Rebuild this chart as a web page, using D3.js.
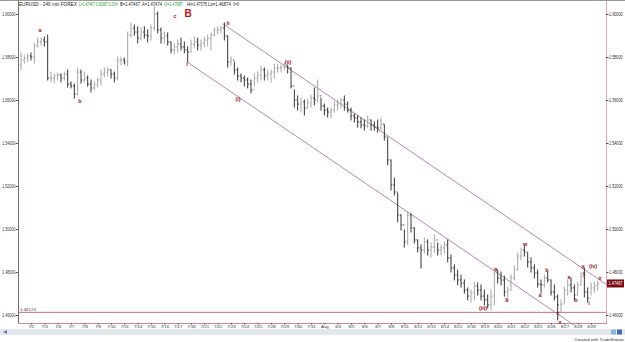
<!DOCTYPE html>
<html lang="en">
<head>
<meta charset="utf-8">
<title>EURUSD - 240 min</title>
<script src="https://d3js.org/d3.v7.min.js"></script>
<style>
  body { margin: 0; background: #fff; }
  svg text { font-family: "Liberation Sans", Arial, sans-serif; }
  .axis .domain { display: none; }
  .axis line { stroke: #555; }
  .axis text { fill: #333; }
</style>
</head>
<body>
<div id="chart"></div>
<script>
const width = 625;
const height = 342;

// session dates on the x axis (one label per trading day)
const days = ["7/2","7/3","7/4","7/7","7/8","7/9","7/10","7/11","7/14","7/15","7/16","7/17","7/18",
  "7/21","7/22","7/23","7/24","7/25","7/28","7/29","7/30","7/31","Aug","8/4","8/5","8/6","8/7","8/8",
  "8/11","8/12","8/13","8/14","8/15","8/18","8/19","8/20","8/21","8/22","8/25","8/26","8/27","8/28","8/29"];
const barsPerDay = 4;
const firstDayBar = 3;

// 240 min bars
const highs = [1.5819,1.5809,1.5814,1.5819,1.5865,1.5888,1.5888,1.5893,1.5902,1.5730,
  1.5721,1.5726,1.5721,1.5730,1.5740,1.5684,1.5674,1.5749,1.5740,1.5730,
  1.5712,1.5693,1.5684,1.5702,1.5740,1.5749,1.5749,1.5740,1.5730,1.5800,
  1.5800,1.5795,1.5916,1.5958,1.5949,1.5940,1.5935,1.5940,1.5926,1.5949,
  1.6037,1.6009,1.5935,1.5916,1.5912,1.5870,1.5860,1.5879,1.5888,1.5870,
  1.5847,1.5879,1.5893,1.5888,1.5879,1.5893,1.5902,1.5912,1.5935,1.5940,
  1.5944,1.5958,1.5898,1.5800,1.5777,1.5749,1.5721,1.5712,1.5702,1.5693,
  1.5721,1.5730,1.5758,1.5749,1.5740,1.5740,1.5767,1.5767,1.5763,1.5772,
  1.5763,1.5749,1.5647,1.5619,1.5609,1.5600,1.5605,1.5623,1.5656,1.5693,
  1.5609,1.5581,1.5563,1.5563,1.5591,1.5600,1.5609,1.5619,1.5591,1.5563,
  1.5535,1.5526,1.5516,1.5507,1.5526,1.5507,1.5498,1.5507,1.5516,1.5484,
  1.5423,1.5321,1.5237,1.5167,1.5065,1.4995,1.5079,1.5070,1.5005,1.4949,
  1.4926,1.4958,1.4949,1.4935,1.4972,1.4935,1.4926,1.4940,1.4949,1.4879,
  1.4833,1.4809,1.4786,1.4763,1.4726,1.4716,1.4753,1.4749,1.4740,1.4716,
  1.4693,1.4716,1.4819,1.4809,1.4800,1.4781,1.4730,1.4786,1.4828,1.4888,
  1.4912,1.4921,1.4888,1.4865,1.4833,1.4809,1.4763,1.4786,1.4800,1.4763,
  1.4740,1.4693,1.4670,1.4730,1.4763,1.4772,1.4740,1.4753,1.4800,1.4819,
  1.4726,1.4749,1.4753,1.4758];
const lows = [1.5740,1.5772,1.5777,1.5786,1.5772,1.5847,1.5856,1.5851,1.5693,1.5684,
  1.5679,1.5693,1.5684,1.5693,1.5660,1.5656,1.5609,1.5623,1.5679,1.5684,
  1.5665,1.5637,1.5647,1.5660,1.5670,1.5707,1.5712,1.5702,1.5684,1.5693,
  1.5763,1.5767,1.5758,1.5893,1.5902,1.5865,1.5879,1.5888,1.5870,1.5879,
  1.5926,1.5912,1.5865,1.5865,1.5856,1.5819,1.5814,1.5823,1.5833,1.5819,
  1.5777,1.5823,1.5842,1.5833,1.5833,1.5847,1.5851,1.5833,1.5898,1.5907,
  1.5912,1.5879,1.5753,1.5763,1.5721,1.5693,1.5684,1.5665,1.5656,1.5633,
  1.5665,1.5684,1.5693,1.5693,1.5693,1.5684,1.5702,1.5730,1.5730,1.5740,
  1.5726,1.5656,1.5567,1.5553,1.5544,1.5530,1.5563,1.5567,1.5577,1.5591,
  1.5553,1.5530,1.5521,1.5516,1.5544,1.5553,1.5563,1.5553,1.5544,1.5507,
  1.5498,1.5474,1.5470,1.5460,1.5470,1.5460,1.5460,1.5451,1.5460,1.5414,
  1.5298,1.5181,1.5158,1.5033,1.4995,1.4916,1.4926,1.4986,1.4935,1.4893,
  1.4819,1.4888,1.4879,1.4870,1.4893,1.4879,1.4879,1.4888,1.4847,1.4800,
  1.4763,1.4740,1.4730,1.4702,1.4670,1.4660,1.4670,1.4693,1.4670,1.4647,
  1.4633,1.4623,1.4647,1.4749,1.4740,1.4688,1.4670,1.4716,1.4763,1.4809,
  1.4856,1.4874,1.4823,1.4800,1.4772,1.4730,1.4702,1.4730,1.4753,1.4693,
  1.4670,1.4577,1.4614,1.4656,1.4693,1.4707,1.4670,1.4693,1.4740,1.4684,
  1.4660,1.4693,1.4707,1.4716];
const closes = [1.5786,1.5795,1.5805,1.5800,1.5851,1.5870,1.5879,1.5870,1.5702,1.5702,
  1.5712,1.5716,1.5702,1.5721,1.5674,1.5665,1.5628,1.5730,1.5693,1.5702,
  1.5674,1.5656,1.5670,1.5693,1.5721,1.5730,1.5740,1.5721,1.5702,1.5786,
  1.5786,1.5777,1.5902,1.5935,1.5916,1.5888,1.5916,1.5902,1.5898,1.5935,
  1.6000,1.5926,1.5888,1.5898,1.5870,1.5833,1.5847,1.5860,1.5847,1.5833,
  1.5823,1.5860,1.5870,1.5856,1.5865,1.5879,1.5888,1.5902,1.5926,1.5926,
  1.5935,1.5898,1.5777,1.5786,1.5740,1.5712,1.5702,1.5693,1.5674,1.5647,
  1.5702,1.5716,1.5740,1.5712,1.5721,1.5730,1.5749,1.5749,1.5753,1.5758,
  1.5749,1.5665,1.5600,1.5581,1.5591,1.5563,1.5586,1.5609,1.5600,1.5619,
  1.5572,1.5553,1.5544,1.5553,1.5577,1.5581,1.5600,1.5581,1.5553,1.5526,
  1.5516,1.5498,1.5484,1.5479,1.5507,1.5484,1.5474,1.5470,1.5488,1.5428,
  1.5321,1.5205,1.5172,1.5065,1.5019,1.4940,1.5065,1.5005,1.4949,1.4912,
  1.4902,1.4940,1.4902,1.4916,1.4949,1.4902,1.4912,1.4926,1.4865,1.4819,
  1.4786,1.4763,1.4749,1.4716,1.4688,1.4702,1.4735,1.4716,1.4688,1.4670,
  1.4647,1.4688,1.4800,1.4772,1.4763,1.4707,1.4716,1.4772,1.4809,1.4874,
  1.4902,1.4893,1.4847,1.4819,1.4795,1.4744,1.4740,1.4772,1.4763,1.4707,
  1.4684,1.4647,1.4651,1.4716,1.4740,1.4726,1.4693,1.4740,1.4781,1.4707,
  1.4679,1.4726,1.4735,1.4747];
const firstOpen = 1.5763;

const priceTicks = [1.46, 1.48, 1.50, 1.52, 1.54, 1.56, 1.58, 1.60];
const lastPrice = 1.47467;
const levelLine = 1.46123;

// trend channel drawn on the chart: [bar index, price]
const channelUpper = [[60.6, 1.5954], [175.8, 1.4740]];
const channelLower = [[49.8, 1.5777], [165.9, 1.4553]];

// wave count labels: [text, bar index, price]
const waveLabels = [
  ["a", 5.7, 1.5926], ["b", 17.7, 1.5595], ["c", 46.2, 1.5991], ["i", 49.8, 1.5767],
  ["ii", 62.1, 1.5958], ["(i)", 65.1, 1.5605], ["(ii)", 80.1, 1.5777], ["(iii)", 138.6, 1.4633],
  ["a", 142.5, 1.4814], ["b", 145.8, 1.4670], ["w", 151.2, 1.4930], ["a", 155.7, 1.4693],
  ["b", 157.8, 1.4809], ["c", 161.1, 1.4609], ["x", 161.7, 1.4567], ["a", 164.4, 1.4777],
  ["b", 166.5, 1.4670], ["y", 168.6, 1.4830], ["c", 168.9, 1.4795], ["(iv)", 171.6, 1.4830],
  ["i", 170.4, 1.4656], ["ii", 173.7, 1.4772]
];

// status line pieces: [text, colour, left, right]
const header = [
  ["EURUSD - 240 min  FOREX", "#222", 19, 77],
  ["L=1.47467  0.00387  0.26%", "#2a9a2a", 79, 118],
  ["B=1.47467", "#222", 120, 140],
  ["A=1.47474", "#222", 142, 162],
  ["O=1.47087", "#2a9a2a", 164, 183],
  ["Hi=1.47575", "#222", 187, 207],
  ["Lo=1.46874", "#222", 208, 231],
  ["V=0", "#222", 233, 239]
];

const svg = d3.select("#chart")
  .append("svg")
  .attr("width", width)
  .attr("height", height);

const x = d3.scaleLinear().domain([0, highs.length - 1]).range([21, 597.7]);
const y = d3.scaleLinear().domain([1.46, 1.60]).range([315, 14]);

// frame
svg.append("line").attr("x1", 0).attr("x2", width).attr("y1", 0.5).attr("y2", 0.5).attr("stroke", "#999");
svg.append("line").attr("x1", 18.5).attr("x2", 18.5).attr("y1", 1).attr("y2", 323).attr("stroke", "#7a6a6e");
svg.append("line").attr("x1", 606.5).attr("x2", 606.5).attr("y1", 1).attr("y2", 323).attr("stroke", "#e2a8b4");
svg.append("line").attr("x1", 18).attr("x2", 607).attr("y1", 323.5).attr("y2", 323.5).attr("stroke", "#c88a94");

// header: each piece squeezed into the width it takes in the picture
svg.append("g").selectAll("text")
  .data(header)
  .join("text")
  .attr("font-size", "5px")
  .attr("fill", d => d[1])
  .text(d => d[0])
  .attr("transform", function(d) {
    const sx = (d[3] - d[2]) / this.getComputedTextLength();
    return `translate(${d[2]},6) scale(${sx.toFixed(3)},1)`;
  });

// level line
svg.append("line")
  .attr("x1", 19).attr("x2", 606)
  .attr("y1", y(levelLine)).attr("y2", y(levelLine))
  .attr("stroke", "#c87078");
svg.append("text")
  .attr("x", 20).attr("y", y(levelLine) - 1.5)
  .attr("font-size", "4.4px").attr("fill", "#444")
  .text(levelLine.toFixed(5));

// channel
const line = d3.line().x(d => x(d[0])).y(d => y(d[1]));
[channelUpper, channelLower].forEach(c => {
  svg.append("path").attr("d", line(c)).attr("fill", "none").attr("stroke", "#a87aaa").attr("stroke-width", 0.9);
});

// bars
const bars = highs.map((h, i) => ({
  i, h, l: lows[i], c: closes[i], o: i ? closes[i - 1] : firstOpen
}));
const bar = svg.append("g").selectAll("g")
  .data(bars)
  .join("g")
  .attr("stroke", d => d.c >= d.o ? "#a4a4a4" : "#363636")
  .attr("stroke-width", 1);
bar.append("line")
  .attr("x1", d => x(d.i)).attr("x2", d => x(d.i))
  .attr("y1", d => y(d.h) - 0.5).attr("y2", d => y(d.l) + 0.5);
bar.append("line")
  .attr("x1", d => x(d.i) - 1.2).attr("x2", d => x(d.i))
  .attr("y1", d => y(d.o)).attr("y2", d => y(d.o));
bar.append("line")
  .attr("x1", d => x(d.i)).attr("x2", d => x(d.i) + 1.2)
  .attr("y1", d => y(d.c)).attr("y2", d => y(d.c));

// wave labels
svg.append("g").selectAll("text")
  .data(waveLabels)
  .join("text")
  .attr("x", d => x(d[1]))
  .attr("y", d => y(d[2]))
  .attr("text-anchor", "middle")
  .attr("dominant-baseline", "central")
  .attr("font-size", "5.5px")
  .attr("font-weight", "bold")
  .attr("fill", "#9a1020")
  .text(d => d[0]);
svg.append("text")
  .attr("x", x(50.1)).attr("y", y(1.6004))
  .attr("text-anchor", "middle").attr("dominant-baseline", "central")
  .attr("font-size", "10px").attr("font-weight", "bold").attr("fill", "#c0141e")
  .text("B");

// price axes
const fmt = d3.format(".5f");
const left = svg.append("g").attr("class", "axis").attr("transform", "translate(18,0)")
  .call(d3.axisLeft(y).tickValues(priceTicks).tickFormat(fmt).tickSize(2.5).tickPadding(1));
const right = svg.append("g").attr("class", "axis").attr("transform", "translate(606,0)")
  .call(d3.axisRight(y).tickValues(priceTicks).tickFormat(fmt).tickSize(2.5).tickPadding(1));
left.selectAll("text").attr("font-size", "4.5px").attr("transform", "scale(0.8,1)");
right.selectAll("text").attr("font-size", "4.5px").attr("transform", "scale(0.85,1)");

// last price box
const lp = svg.append("g").attr("transform", `translate(607,${y(lastPrice)})`);
lp.append("rect").attr("x", 0).attr("y", -4).attr("width", 17).attr("height", 8).attr("fill", "#7a0c14");
lp.append("text").attr("x", 8.5).attr("y", 0).attr("text-anchor", "middle")
  .attr("dominant-baseline", "central").attr("font-size", "4.5px").attr("fill", "#fff")
  .attr("textLength", 14).attr("lengthAdjust", "spacingAndGlyphs")
  .text(lastPrice.toFixed(5));

// date axis
const dayBars = days.map((d, k) => firstDayBar + k * barsPerDay);
const bottom = svg.append("g").attr("class", "axis").attr("transform", "translate(0,323)")
  .call(d3.axisBottom(x).tickValues(dayBars).tickFormat((d, k) => days[k]).tickSize(1.5).tickPadding(0.5));
bottom.selectAll("text").attr("font-size", "4.3px");
bottom.selectAll("line").attr("stroke", "#c88a94");

// scroll bar and footer
svg.append("rect").attr("x", 0).attr("y", 329).attr("width", width).attr("height", 6).attr("fill", "#e4e8ee");
svg.append("path").attr("d", "M3,332 L7,330 L7,334 Z").attr("fill", "#5a7fb0");
svg.append("rect").attr("x", 611).attr("y", 329.5).attr("width", 5).attr("height", 5).attr("fill", "#8fb2d8");
svg.append("rect").attr("x", 617).attr("y", 329.5).attr("width", 5).attr("height", 5).attr("fill", "#3f6fae");
svg.append("text").attr("x", 624).attr("y", 341).attr("text-anchor", "end")
  .attr("font-size", "4.3px").attr("fill", "#333").text("Created with TradeStation");
</script>
</body>
</html>
